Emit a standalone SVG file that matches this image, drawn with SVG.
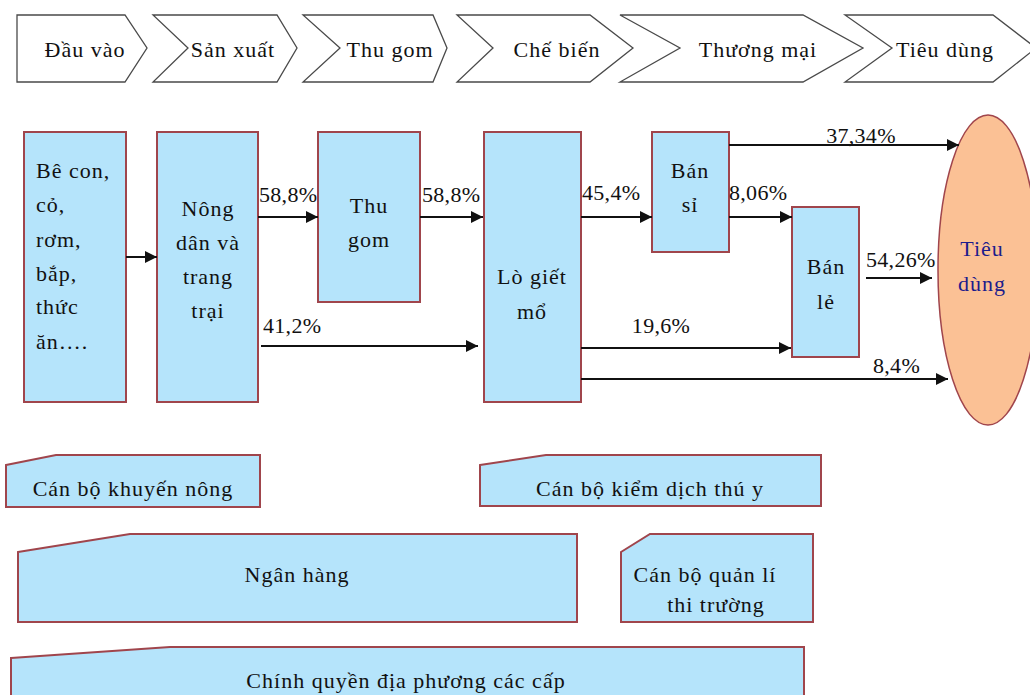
<svg xmlns="http://www.w3.org/2000/svg" width="1030" height="695" viewBox="0 0 1030 695">
<style>
.chev{fill:#fff;stroke:#4a4a4a;stroke-width:1.3}
.box{fill:#b5e4fb;stroke:#a0454c;stroke-width:2}
.t{font-family:"Liberation Serif","DejaVu Serif",serif;font-size:22px;letter-spacing:1px;fill:#111}
.c{text-anchor:middle}
.p{font-family:"Liberation Serif","DejaVu Serif",serif;font-size:22px;letter-spacing:0.3px;fill:#111}
.ln{stroke:#111;stroke-width:2;fill:none;marker-end:url(#ah)}
</style>
<defs>
<marker id="ah" viewBox="0 0 12 12" refX="12" refY="6" markerWidth="12" markerHeight="12" markerUnits="userSpaceOnUse" orient="auto">
<path d="M0,0 L12,6 L0,12 Z" fill="#111"/>
</marker>
</defs>
<rect width="1030" height="695" fill="#fff"/>

<g id="stage-dau-vao"><path class="chev" d="M17,15 H125 L147,48 L125,82 H17 Z"/><text class="t c" x="85" y="57">Đầu vào</text></g>
<g id="stage-san-xuat"><path class="chev" d="M153,15 H277 L297,48 L277,82 H153 L188,48 Z"/><text class="t c" x="233" y="57">Sản xuất</text></g>
<g id="stage-thu-gom"><path class="chev" d="M303,15 H433 L447,48 L433,82 H303 L340,48 Z"/><text class="t c" x="390" y="57">Thu gom</text></g>
<g id="stage-che-bien"><path class="chev" d="M457,15 H590 L633,48 L590,82 H457 L493,48 Z"/><text class="t c" x="557" y="57">Chế biến</text></g>
<g id="stage-thuong-mai"><path class="chev" d="M620,15 H803 L863,48 L803,82 H620 L680,48 Z"/><text class="t c" x="758" y="57">Thương mại</text></g>
<g id="stage-tieu-dung"><path class="chev" d="M845,15 H993 L1036,48 L993,82 H845 L892,48 Z"/><text class="t c" x="945" y="57">Tiêu dùng</text></g>

<g id="node-dau-vao"><rect class="box" x="24" y="132" width="102" height="270"/>
<text class="t" x="36" y="178">Bê con,</text><text class="t" x="36" y="212">cỏ,</text><text class="t" x="36" y="247">rơm,</text><text class="t" x="36" y="281">bắp,</text><text class="t" x="36" y="314">thức</text><text class="t" x="36" y="349">ăn….</text></g>
<g id="node-nong-dan"><rect class="box" x="157" y="132" width="101" height="270"/>
<text class="t c" x="208" y="216">Nông</text><text class="t c" x="208" y="250">dân và</text><text class="t c" x="208" y="284">trang</text><text class="t c" x="208" y="318">trại</text></g>
<g id="node-thu-gom"><rect class="box" x="318" y="132" width="102" height="170"/>
<text class="t c" x="369" y="213">Thu</text><text class="t c" x="369" y="247">gom</text></g>
<g id="node-lo-giet-mo"><rect class="box" x="484" y="132" width="97" height="270"/>
<text class="t c" x="532" y="284">Lò giết</text><text class="t c" x="532" y="319">mổ</text></g>
<g id="node-ban-si"><rect class="box" x="652" y="132" width="77" height="120"/>
<text class="t c" x="690" y="178">Bán</text><text class="t c" x="690" y="212">sỉ</text></g>
<g id="node-ban-le"><rect class="box" x="792" y="207" width="67" height="150"/>
<text class="t c" x="826" y="274">Bán</text><text class="t c" x="826" y="309">lẻ</text></g>
<g id="node-tieu-dung"><ellipse cx="988" cy="270" rx="50" ry="155" fill="#fbc195" stroke="#a0454c" stroke-width="1.5"/>
<text class="t c" x="982" y="256" style="fill:#1c1c8c">Tiêu</text><text class="t c" x="982" y="291" style="fill:#1c1c8c">dùng</text></g>

<g id="connectors">
<line class="ln" x1="126" y1="257" x2="157" y2="257"/>
<line class="ln" x1="258" y1="217" x2="318" y2="217"/>
<line class="ln" x1="420" y1="217" x2="483" y2="217"/>
<line class="ln" x1="261" y1="346" x2="478" y2="346"/>
<line class="ln" x1="581" y1="217" x2="652" y2="217"/>
<line class="ln" x1="729" y1="145" x2="959" y2="145"/>
<line class="ln" x1="729" y1="217" x2="792" y2="217"/>
<line class="ln" x1="866" y1="278" x2="932" y2="278"/>
<line class="ln" x1="581" y1="348" x2="791" y2="348"/>
<line class="ln" x1="581" y1="379" x2="948" y2="379"/>
<text class="p" x="259" y="202">58,8%</text>
<text class="p" x="422" y="202">58,8%</text>
<text class="p" x="263" y="333">41,2%</text>
<text class="p" x="582" y="200">45,4%</text>
<text class="p" x="729" y="200">8,06%</text>
<text class="p c" x="861" y="143">37,34%</text>
<text class="p" x="866" y="267">54,26%</text>
<text class="p c" x="661" y="333">19,6%</text>
<text class="p" x="873" y="373">8,4%</text>
</g>

<g id="node-khuyen-nong"><path class="box" d="M6,465 L56,455 H260 V507 H6 Z"/><text class="t c" x="133" y="496">Cán bộ khuyến nông</text></g>
<g id="node-kiem-dich"><path class="box" d="M480,465 L546,455 H821 V506 H480 Z"/><text class="t c" x="650" y="496">Cán bộ kiểm dịch thú y</text></g>
<g id="node-ngan-hang"><path class="box" d="M18,552 L130,534 H577 V622 H18 Z"/><text class="t c" x="297" y="582">Ngân hàng</text></g>
<g id="node-quan-li"><path class="box" d="M621,552 L650,534 H813 V622 H621 Z"/><text class="t c" x="705" y="582">Cán bộ quản lí</text><text class="t c" x="716" y="612">thi trường</text></g>
<g id="node-chinh-quyen"><path class="box" d="M11,658 L170,647 H804 V700 H11 Z"/><text class="t c" x="406" y="688">Chính quyền địa phương các cấp</text></g>
</svg>
